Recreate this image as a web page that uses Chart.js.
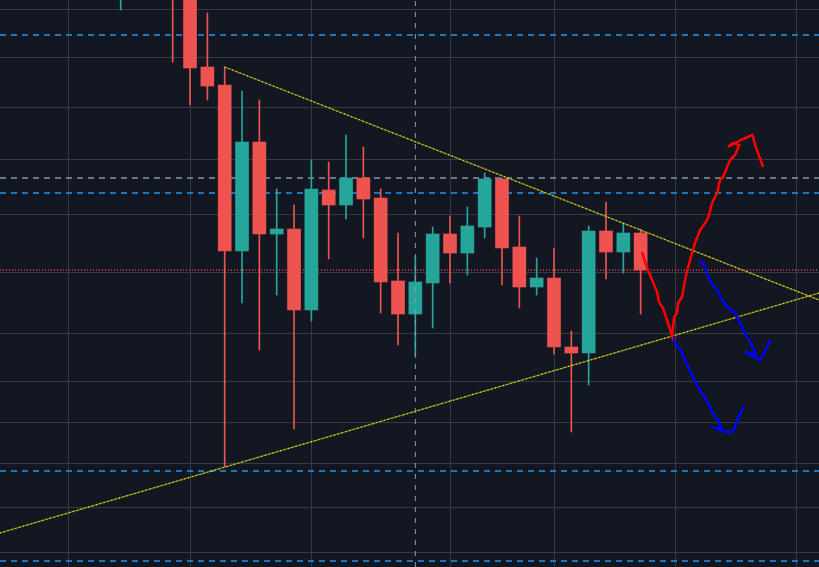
<!DOCTYPE html>
<html>
<head>
<meta charset="utf-8">
<script src="https://cdn.jsdelivr.net/npm/chart.js@4"></script>
<style>
    html, body { margin: 0; padding: 0; background: #131722; }
    #wrap { width: 819px; height: 567px; }
</style>
</head>
<body>
<div id="wrap"><canvas id="chart"></canvas></div>
<script>
/* =========================
   Data (price units, candle index on x)
========================= */
const candles = [0, 1, 2, 3, 4, 5, 6, 7, 8, 9, 10, 11, 12, 13, 14, 15, 16, 17, 18, 19, 20, 21, 22, 23, 24, 25, 26, 27, 28, 29, 30];
const opens  = [587, 627, 597, 612, 572, 500, 482, 316, 425, 333, 338, 257, 377, 362, 389, 369, 286, 253, 284, 333, 314, 340, 388, 320, 280, 289, 220, 214, 336, 315, 334];
const closes = [612, 597, 617, 572, 499, 481, 316, 425, 333, 338, 257, 378, 362, 389, 368, 285, 253, 285, 333, 314, 341, 388, 319, 280, 289, 220, 214, 336, 315, 334, 297];
const highs  = [622, 637, 632, 627, 587, 554, 500, 476, 467, 378, 362, 407, 405, 432, 420, 378, 334, 310, 340, 351, 360, 394, 389, 351, 309, 319, 236, 341, 365, 344, 338];
const lows   = [557, 582, 579, 505, 462, 467, 100, 264, 217, 272, 138, 246, 308, 348, 329, 254, 222, 212, 239, 284, 292, 329, 282, 259, 272, 213, 135, 182, 288, 294, 253];

// grid ticks
const timeGrid = [-3, 4, 11, 19, 25, 32, 39];
const priceGrid = [558, 510, 460, 408, 353, 295, 234, 186, 145, 104, 60, 15];

// horizontal levels
const blueLevels = [532, 374, 96, 6];
const greyLevels = [389];
const lastPrice = 297;
const crossIndex = 17;

// trendlines
const upperTrend = [[6, 500], [40.29, 267]];
const lowerTrend = [[-6.965, 34], [40.29, 274]];

// hand drawn arrows
const redArrow = [[30.08,315],[30.37,299],[30.66,287],[30.95,275],[31.06,265],[31.29,259],[31.52,247],[31.70,237],[31.81,231],[31.93,250],[32.10,254],[32.16,264],[32.39,270],[32.56,287],[32.74,300],[32.97,314],[33.14,324],[33.43,337],[33.72,344],[33.89,349],[34.12,364],[34.41,374],[34.58,387],[34.76,390],[34.99,400],[35.16,407],[35.45,412],[35.68,422],[35.33,424],[35.04,420],[35.33,423],[35.91,428],[36.43,432],[36.49,430],[36.60,422],[37.07,400]];
const blueArrowLow = [[31.81,231],[31.98,224],[32.39,214],[32.56,207],[32.74,200],[33.02,190],[33.31,180],[33.60,172],[33.89,164],[34.18,154],[34.47,147],[34.64,139],[34.29,139],[34.87,135],[35.33,135],[35.62,149],[35.97,161]];
const blueArrowHigh = [[33.37,307],[33.72,300],[33.95,287],[34.41,277],[34.70,267],[35.04,259],[35.45,254],[35.74,244],[36.02,234],[36.31,225],[36.49,219],[36.60,212],[36.02,215],[36.89,207],[37.29,220],[37.47,227]];

const X_MIN = -6.965, X_MAX = 40.29, Y_MIN = 0, Y_MAX = 567;

/* =========================
   Build datasets
========================= */
const UP = "#26a69a";
const DOWN = "#ef5350";
const candleColors = candles.map((c, i) => closes[i] >= opens[i] ? UP : DOWN);

const toXY = pts => pts.map(p => ({ x: p[0], y: p[1] }));

function lineSet(points, color, width, dash, order) {
    return {
        type: "line",
        data: toXY(points),
        borderColor: color,
        borderWidth: width,
        borderDash: dash,
        pointRadius: 0,
        tension: 0,
        fill: false,
        order: order
    };
}

const datasets = [];

// hand drawings on top
datasets.push(lineSet(redArrow, "#ff0000", 2.5, [], 0));
datasets.push(lineSet(blueArrowLow, "#0000ff", 2.5, [], 0));
datasets.push(lineSet(blueArrowHigh, "#0000ff", 2.5, [], 0));

// crosshair
datasets.push(lineSet([[crossIndex, Y_MIN], [crossIndex, Y_MAX]], "#8a9cb2", 1, [5, 6], 1));

// trendlines: dim base + bright dots
[upperTrend, lowerTrend].forEach(t => {
    datasets.push(lineSet(t, "#ffff20", 1.2, [1, 3], 2));
    datasets.push(lineSet(t, "rgba(160,160,30,0.75)", 1.2, [], 2.5));
});

// candle bodies
datasets.push({
    type: "bar",
    data: candles.map((c, i) => ({ x: c, y: [opens[i], closes[i]] })),
    backgroundColor: candleColors,
    borderWidth: 0,
    barThickness: 13,
    grouped: false,
    minBarLength: 1,
    order: 3
});

// wicks
datasets.push({
    type: "bar",
    data: candles.map((c, i) => ({ x: c, y: [lows[i], highs[i]] })),
    backgroundColor: candleColors,
    borderWidth: 0,
    barThickness: 1,
    grouped: false,
    order: 4
});

// levels behind the candles
blueLevels.forEach(v => datasets.push(lineSet([[X_MIN, v], [X_MAX, v]], "#2196f3", 1.3, [6, 5], 5)));
greyLevels.forEach(v => datasets.push(lineSet([[X_MIN, v], [X_MAX, v]], "#8495aa", 1.3, [6, 5], 5)));
datasets.push(lineSet([[X_MIN, lastPrice], [X_MAX, lastPrice]], "#f23645", 1.3, [1, 2], 5));

/* =========================
   Chart
========================= */
const gridColor = "#363a45";

new Chart(document.getElementById("chart"), {
    type: "bar",
    data: { datasets: datasets },
    options: {
        responsive: true,
        maintainAspectRatio: false,
        animation: false,
        layout: { padding: 0 },
        plugins: {
            legend: { display: false },
            tooltip: { enabled: false }
        },
        scales: {
            x: {
                type: "linear",
                min: X_MIN,
                max: X_MAX,
                offset: false,
                ticks: { display: false },
                border: { display: false },
                grid: { color: gridColor, drawTicks: false, offset: false },
                afterBuildTicks: s => { s.ticks = timeGrid.map(v => ({ value: v })); },
                afterFit: s => { s.height = 0; }
            },
            y: {
                type: "linear",
                min: Y_MIN,
                max: Y_MAX,
                ticks: { display: false },
                border: { display: false },
                grid: { color: gridColor, drawTicks: false },
                afterBuildTicks: s => { s.ticks = priceGrid.map(v => ({ value: v })); },
                afterFit: s => { s.width = 0; }
            }
        }
    }
});
</script>
</body>
</html>
